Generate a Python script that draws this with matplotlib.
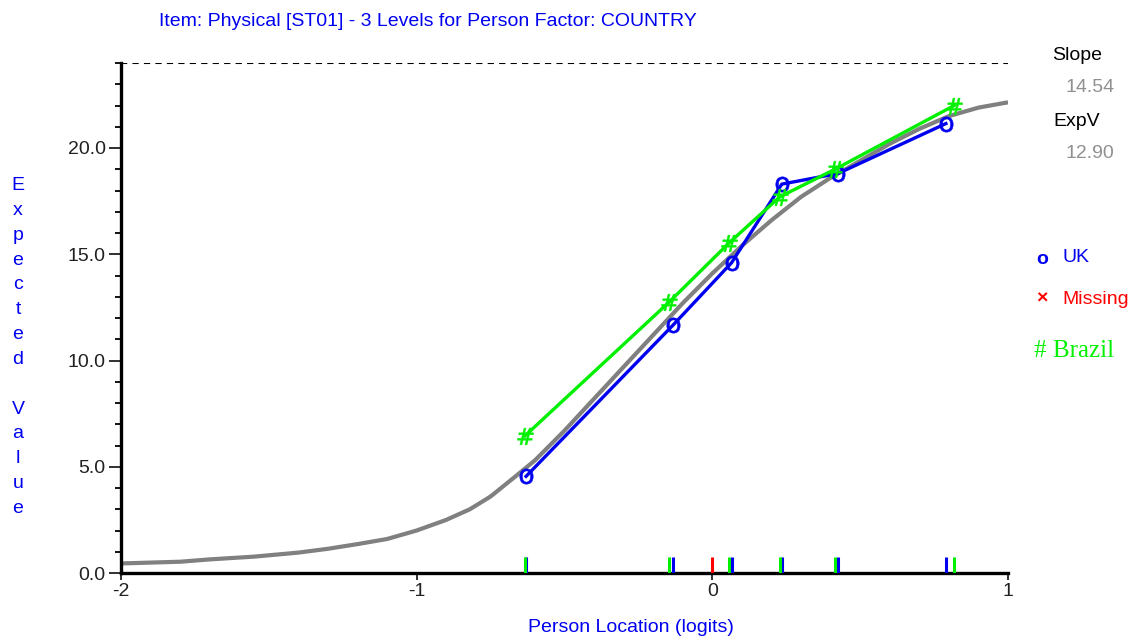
import matplotlib
matplotlib.use("Agg")
import matplotlib.pyplot as plt
from matplotlib.ticker import MultipleLocator, FixedLocator

plt.rcParams["font.family"] = ["Liberation Sans", "DejaVu Sans"]

# expected value curve (model)
curve_x = [-2.0, -1.8, -1.7, -1.55, -1.4, -1.3, -1.2, -1.1, -1.05, -1.0, -0.95, -0.9, -0.82,
           -0.75, -0.67, -0.6, -0.5, -0.4, -0.3, -0.2, -0.1, 0.0, 0.1, 0.2, 0.3, 0.4, 0.5,
           0.6, 0.7, 0.8, 0.9, 1.0]
curve_y = [0.45, 0.53, 0.64, 0.77, 0.96, 1.14, 1.36, 1.6, 1.8, 2.0, 2.25, 2.5, 3.0,
           3.6, 4.5, 5.3, 6.7, 8.2, 9.7, 11.2, 12.7, 14.1, 15.4, 16.6, 17.7, 18.6, 19.4,
           20.2, 20.9, 21.5, 21.9, 22.15]

# observed class-interval means
uk_x = [-0.63, -0.134, 0.065, 0.235, 0.425, 0.79]
uk_y = [4.55, 11.65, 14.6, 18.3, 18.8, 21.15]
brazil_x = [-0.634, -0.146, 0.058, 0.228, 0.415, 0.818]
brazil_y = [6.45, 12.75, 15.55, 17.7, 19.0, 22.0]
missing_x = [0.0]

max_score = 24
slope = 14.54
exp_v = 12.90

title = "Item: Physical [ST01] - 3 Levels for Person Factor: COUNTRY"

BLUE = "#0000f0"
GREEN = "#00f000"
RED = "#ff0000"
GRAY = "#808080"

fig = plt.figure(figsize=(11.32, 6.42), dpi=100)
ax = fig.add_axes([121 / 1132, 69 / 642, 887 / 1132, 510 / 642])

ax.plot(curve_x, curve_y, color=GRAY, lw=3.0, solid_capstyle="butt", zorder=2)
ax.plot(uk_x, uk_y, color=BLUE, lw=2.4, zorder=3,
        marker=r"$\mathrm{o}$", ms=11, mec=BLUE, mfc=BLUE, mew=0.4)
ax.plot(brazil_x, brazil_y, color=GREEN, lw=2.4, zorder=4,
        marker=r"$\#$", ms=12, mec=GREEN, mfc=GREEN, mew=0.4)

rug_h = 0.75
ax.vlines(uk_x, 0, rug_h, color=BLUE, lw=2.2, zorder=5)
ax.vlines(brazil_x, 0, rug_h, color=GREEN, lw=2.2, zorder=5)
ax.vlines(missing_x, 0, rug_h, color=RED, lw=2.2, zorder=5)

ax.axhline(max_score, color="black", lw=1.5, ls=(0, (3, 2.5)), zorder=1)

ax.set_xlim(-2, 1)
ax.set_ylim(0, max_score)
ax.xaxis.set_major_locator(FixedLocator([-2, -1, 0, 1]))
ax.yaxis.set_major_locator(MultipleLocator(5))
ax.yaxis.set_minor_locator(MultipleLocator(1))
ax.set_yticks([0, 5, 10, 15, 20])
ax.set_yticklabels(["0.0", "5.0", "10.0", "15.0", "20.0"])
ax.set_xticklabels(["-2", "-1", "0", "1"])

for side in ("top", "right"):
    ax.spines[side].set_visible(False)
for side in ("left", "bottom"):
    ax.spines[side].set_linewidth(2.4)
ax.tick_params(axis="both", which="major", width=1.3, labelsize=14, colors="#202020")
ax.tick_params(axis="x", which="major", length=5, pad=2)
ax.tick_params(axis="y", which="major", length=9, pad=2)
ax.tick_params(axis="y", which="minor", length=4, width=1.3)

fig.text(428 / 1132, 1 - 22 / 642, title, color=BLUE, fontsize=14, ha="center", va="center")
fig.text(631 / 1132, 1 - 628 / 642, "Person Location (logits)", color=BLUE, fontsize=14,
         ha="center", va="center")
ylab = "\n".join(list("Expected") + [" "] + list("Value"))
fig.text(18 / 1132, 1 - 347 / 642, ylab, color=BLUE, fontsize=14, ha="center", va="center",
         linespacing=1.6)

fig.text(1077 / 1132, 1 - 55 / 642, "Slope", color="black", fontsize=14, ha="center", va="center")
fig.text(1090 / 1132, 1 - 87 / 642, f"{slope:.2f}", color="#909090", fontsize=14, ha="center", va="center")
fig.text(1077 / 1132, 1 - 122 / 642, "ExpV", color="black", fontsize=14, ha="center", va="center")
fig.text(1090 / 1132, 1 - 153 / 642, f"{exp_v:.2f}", color="#909090", fontsize=14, ha="center", va="center")

fig.text(1036 / 1132, 1 - 259 / 642, "o", color=BLUE, fontsize=14, ha="left", va="center", weight="bold")
fig.text(1062 / 1132, 1 - 258 / 642, "UK", color=BLUE, fontsize=14, ha="left", va="center")
fig.text(1036 / 1132, 1 - 299 / 642, "\u00d7", color=RED, fontsize=14, ha="left", va="center", weight="bold")
fig.text(1062 / 1132, 1 - 299 / 642, "Missing", color=RED, fontsize=14, ha="left", va="center")
fig.text(1034 / 1132, 1 - 351 / 642, "# Brazil", color=GREEN, fontsize=18, ha="left", va="center",
         family=["Liberation Serif", "DejaVu Serif"])

fig.savefig("out.png", dpi=100)
